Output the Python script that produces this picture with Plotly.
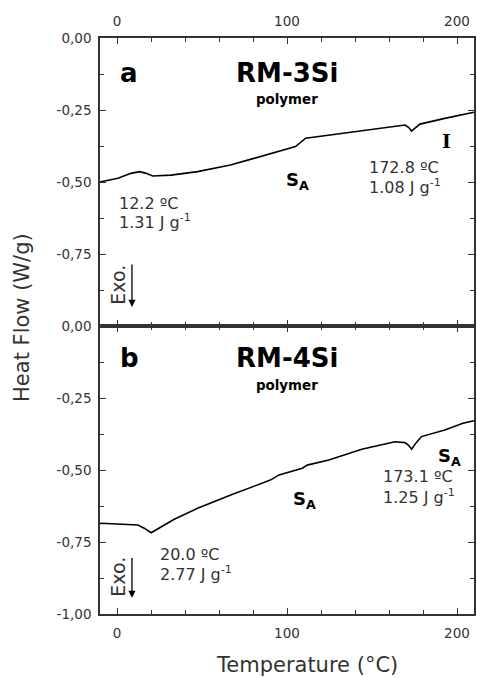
import plotly.graph_objects as go
from plotly.subplots import make_subplots

# RM-3Si polymer (panel a)
temp_a = [-10, -9.4, 0.6, 8.2, 13.3, 17.2, 21, 31.8, 47.4, 66.7, 80.5, 94, 95.3, 105, 111, 124.6,
          138.2, 153.8, 169.4, 171.5, 173.3, 175.5, 178.2, 192.8, 208.4, 210]
flow_a = [-0.500, -0.499, -0.487, -0.470, -0.464, -0.470, -0.479, -0.476, -0.464, -0.441, -0.418,
          -0.395, -0.393, -0.377, -0.348, -0.337, -0.325, -0.314, -0.302, -0.310, -0.323, -0.312,
          -0.299, -0.279, -0.259, -0.258]

# RM-4Si polymer (panel b)
temp_b = [-10, -9.2, 12.3, 16, 20.1, 25, 29.8, 33.7, 47.4, 66.9, 90.2, 95.3, 109, 111.9, 124.6,
          144, 163.5, 169.4, 171.5, 173.3, 176, 179.1, 192.8, 203.5, 210]
flow_b = [-0.686, -0.685, -0.691, -0.702, -0.718, -0.700, -0.685, -0.671, -0.633, -0.587, -0.535,
          -0.517, -0.494, -0.483, -0.465, -0.428, -0.402, -0.405, -0.414, -0.428, -0.405, -0.384,
          -0.361, -0.338, -0.329]

x_major = [0, 100, 200]
y_major_a = [0, -0.25, -0.5, -0.75]
y_major_b = [0, -0.25, -0.5, -0.75, -1.0]

def lab(v):
    return f"{v:.2f}".replace(".", ",")

fig = make_subplots(rows=2, cols=1, vertical_spacing=0)

fig.add_trace(go.Scatter(x=temp_a, y=flow_a, mode="lines", line=dict(color="black", width=1.6),
                         showlegend=False), row=1, col=1)
fig.add_trace(go.Scatter(x=temp_b, y=flow_b, mode="lines", line=dict(color="black", width=1.6),
                         showlegend=False), row=2, col=1)

axcol = "#333333"
tickfont = dict(family="DejaVu Sans", size=13.5, color="#333333")
common_x = dict(range=[-10, 210], tickvals=x_major, ticktext=[str(v) for v in x_major],
                ticks="inside", ticklen=6, tickwidth=1.2, tickcolor=axcol,
                showline=True, linecolor=axcol, linewidth=1.5, mirror="ticks",
                showgrid=False, zeroline=False, tickfont=tickfont,
                minor=dict(tickmode="linear", tick0=0, dtick=20, ticks="inside", ticklen=4,
                           tickcolor=axcol, showgrid=False))
fig.update_xaxes(**common_x, side="top", ticklabelstandoff=5, row=1, col=1)
fig.update_xaxes(**common_x, side="bottom", ticklabelstandoff=6, row=2, col=1)

common_y = dict(range=[-1, 0], ticks="inside", ticklen=6, tickwidth=1.2, tickcolor=axcol,
                showline=True, linecolor=axcol, linewidth=1.5, mirror="ticks",
                showgrid=False, zeroline=False, tickfont=tickfont, ticklabelstandoff=4,
                minor=dict(tickmode="linear", tick0=0, dtick=0.125, ticks="inside", ticklen=4,
                           tickcolor=axcol, showgrid=False))
fig.update_yaxes(**common_y, tickvals=y_major_a, ticktext=[lab(v) for v in y_major_a], row=1, col=1)
fig.update_yaxes(**common_y, tickvals=y_major_b, ticktext=[lab(v) for v in y_major_b], row=2, col=1)

txt = "#333333"
def ann(x, y, text, xref, yref, size, bold=False, family="DejaVu Sans", xanchor="center", color="black"):
    if bold:
        text = f"<b>{text}</b>"
    fig.add_annotation(x=x, y=y, xref=xref, yref=yref, text=text, showarrow=False,
                       font=dict(family=family, size=size, color=color), xanchor=xanchor,
                       yanchor="middle", align="left")

# Panel a
ann(7.3, -0.122, "a", "x", "y", 26, bold=True)
ann(100, -0.122, "RM-3Si", "x", "y", 26, bold=True)
ann(100, -0.215, "polymer", "x", "y", 13.4, bold=True)
ann(0, -0.573, "12.2 ºC", "x", "y", 16, xanchor="left", color=txt)
ann(0, -0.637, "1.31 J g<sup>-1</sup>", "x", "y", 16, xanchor="left", color=txt)
ann(106, -0.495, "S<sub>A</sub>", "x", "y", 18, bold=True)
ann(147, -0.448, "172.8 ºC", "x", "y", 16, xanchor="left", color=txt)
ann(147, -0.514, "1.08 J g<sup>-1</sup>", "x", "y", 16, xanchor="left", color=txt)
ann(194, -0.358, "I", "x", "y", 19, bold=True, family="DejaVu Serif")

# Panel b
ann(7.3, -0.11, "b", "x2", "y2", 26, bold=True)
ann(100, -0.11, "RM-4Si", "x2", "y2", 26, bold=True)
ann(100, -0.205, "polymer", "x2", "y2", 13.4, bold=True)
ann(110, -0.605, "S<sub>A</sub>", "x2", "y2", 18, bold=True)
ann(155, -0.524, "173.1 ºC", "x2", "y2", 16, xanchor="left", color=txt)
ann(155, -0.592, "1.25 J g<sup>-1</sup>", "x2", "y2", 16, xanchor="left", color=txt)
ann(195.5, -0.455, "S<sub>A</sub>", "x2", "y2", 18, bold=True)
ann(24, -0.792, "20.0 ºC", "x2", "y2", 16, xanchor="left", color=txt)
ann(24, -0.858, "2.77 J g<sup>-1</sup>", "x2", "y2", 16, xanchor="left", color=txt)

# Exo arrows
for xr, yr, y0, y1, yt in [("x", "y", -0.781, -0.934, -0.858), ("x2", "y2", -0.80, -0.944, -0.872)]:
    fig.add_annotation(x=8.8, y=y1, ax=8.8, ay=y0, xref=xr, yref=yr, axref=xr, ayref=yr,
                       showarrow=True, arrowhead=2, arrowsize=1.1, arrowwidth=1.3,
                       arrowcolor="black", text="")
    fig.add_annotation(x=0.9, y=yt, xref=xr, yref=yr, text="Exo.", showarrow=False,
                       textangle=-90, font=dict(family="DejaVu Sans", size=19, color=txt))

# Axis titles
fig.add_annotation(x=0.0, y=0.514, xref="paper", yref="paper", xshift=-78, xanchor="center",
                   yanchor="middle", text="Heat Flow (W/g)", textangle=-90, showarrow=False,
                   font=dict(family="DejaVu Sans", size=21, color=txt))
fig.add_annotation(x=0.553, y=0, xref="paper", yref="paper", yshift=-51, xanchor="center",
                   yanchor="middle", text="Temperature (°C)", showarrow=False,
                   font=dict(family="DejaVu Sans", size=21, color=txt))

fig.update_layout(width=477, height=678, margin=dict(l=100, r=1, t=38, b=64),
                  paper_bgcolor="white", plot_bgcolor="white")

fig.write_html("out.html")
